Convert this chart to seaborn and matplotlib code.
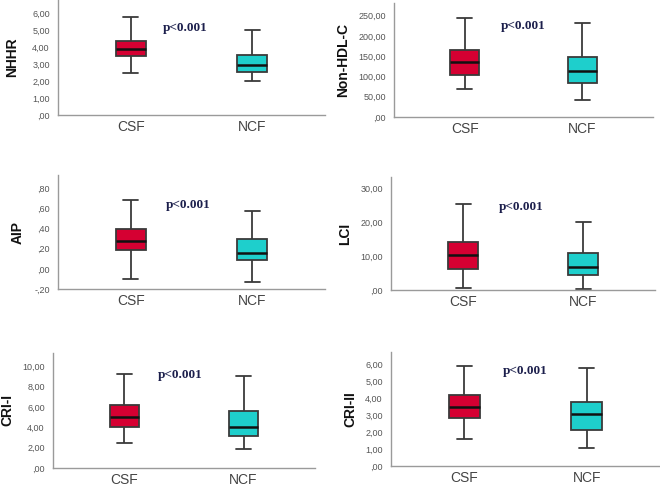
import pandas as pd
import matplotlib.pyplot as plt
import seaborn as sns

# Boxplot summaries: [min, Q1, median, Q3, max]
groups = ["CSF", "NCF"]
panel_names = ["NHHR", "Non-HDL-C", "AIP", "LCI", "CRI-I", "CRI-II"]

nhhr_csf = [2.44, 3.44, 3.90, 4.37, 5.77]
nhhr_ncf = [2.01, 2.52, 2.95, 3.50, 4.98]
nonhdl_csf = [70.0, 102.5, 136.0, 164.0, 245.0]
nonhdl_ncf = [42.6, 83.0, 114.0, 147.5, 231.0]
aip_csf = [-0.104, 0.182, 0.28, 0.397, 0.684]
aip_ncf = [-0.134, 0.088, 0.16, 0.30, 0.57]
lci_csf = [0.5, 6.24, 10.3, 14.1, 25.4]
lci_ncf = [0.4, 4.46, 6.83, 10.9, 20.3]
cri1_csf = [2.49, 4.0, 4.98, 6.23, 9.25]
cri1_ncf = [1.84, 3.18, 4.0, 5.57, 9.08]
cri2_csf = [1.61, 2.80, 3.44, 4.17, 5.87]
cri2_ncf = [1.04, 2.11, 3.03, 3.76, 5.75]

p_label = "p<0.001"

# y ticks per panel
nhhr_ticks = [0, 1, 2, 3, 4, 5, 6]
nonhdl_ticks = [0, 50, 100, 150, 200, 250]
aip_ticks = [-0.2, 0.0, 0.2, 0.4, 0.6, 0.8]
lci_ticks = [0, 10, 20, 30]
cri1_ticks = [0, 2, 4, 6, 8, 10]
cri2_ticks = [0, 1, 2, 3, 4, 5, 6]

panels = [
    (nhhr_csf, nhhr_ncf, nhhr_ticks),
    (nonhdl_csf, nonhdl_ncf, nonhdl_ticks),
    (aip_csf, aip_ncf, aip_ticks),
    (lci_csf, lci_ncf, lci_ticks),
    (cri1_csf, cri1_ncf, cri1_ticks),
    (cri2_csf, cri2_ncf, cri2_ticks),
]

# layout in pixels: left, right, top, bottom, ylim, ylabel x (axes frac), p text (x, y frac)
layout = [
    (58, 325, 0, 115, (0, 6.76), -0.172, (0.476, 0.757)),
    (394, 653, 3, 117, (0, 281), -0.197, (0.50, 0.80)),
    (58, 325, 175, 289, (-0.19, 0.93), -0.15, (0.489, 0.737)),
    (391, 655, 177, 290, (0, 33.5), -0.174, (0.494, 0.735)),
    (53, 315, 353, 468, (0, 11.3), -0.176, (0.487, 0.81)),
    (391, 660, 352, 466, (0, 6.7), -0.152, (0.498, 0.83)),
]


def spss_fmt(v):
    s = f"{v:.2f}".replace(".", ",")
    if s.startswith("0,"):
        s = s[1:]
    elif s.startswith("-0,"):
        s = "-" + s[2:]
    return s


sns.set_style("white")
plt.rcParams["font.family"] = ["Liberation Sans", "DejaVu Sans"]

W, H = 660, 486
fig = plt.figure(figsize=(6.6, 4.86), dpi=100)
palette = {"CSF": "#d50032", "NCF": "#1ecfcc"}

for name, (csf, ncf, ticks), (l, r, t, b, ylim, ylx, ptxt) in zip(panel_names, panels, layout):
    ax = fig.add_axes([l / W, 1 - b / H, (r - l) / W, (b - t) / H])
    df = pd.DataFrame({
        "group": ["CSF"] * len(csf) + ["NCF"] * len(ncf),
        "value": csf + ncf,
    })
    sns.boxplot(data=df, x="group", y="value", hue="group", order=groups,
                palette=palette, saturation=1, width=0.25, whis=(0, 100),
                linecolor="#3a3a3a", linewidth=1.3, legend=False, ax=ax,
                medianprops={"color": "#111111", "linewidth": 1.8})
    ax.set_xlim(-0.6, 1.6)
    ax.set_ylim(*ylim)
    ax.set_yticks(ticks)
    ax.set_yticklabels([spss_fmt(v) for v in ticks])
    ax.tick_params(axis="y", length=0, pad=6, labelsize=6.5, labelcolor="#555555")
    ax.tick_params(axis="x", length=0, pad=3.5, labelsize=10, labelcolor="#444444")
    ax.set_xlabel("")
    ax.set_ylabel(name, fontsize=10, fontweight="bold", color="#111111", va="center")
    ax.yaxis.set_label_coords(ylx, 0.5)
    for side in ["top", "right"]:
        ax.spines[side].set_visible(False)
    for side in ["left", "bottom"]:
        ax.spines[side].set_color("#9a9a9a")
        ax.spines[side].set_linewidth(1.0)
    ax.text(ptxt[0], ptxt[1], p_label, transform=ax.transAxes, ha="center", va="center",
            fontsize=9.5, fontweight="bold", color="#1c1f4c",
            family=["Liberation Serif", "DejaVu Serif"])

fig.savefig("out.png", dpi=100)
